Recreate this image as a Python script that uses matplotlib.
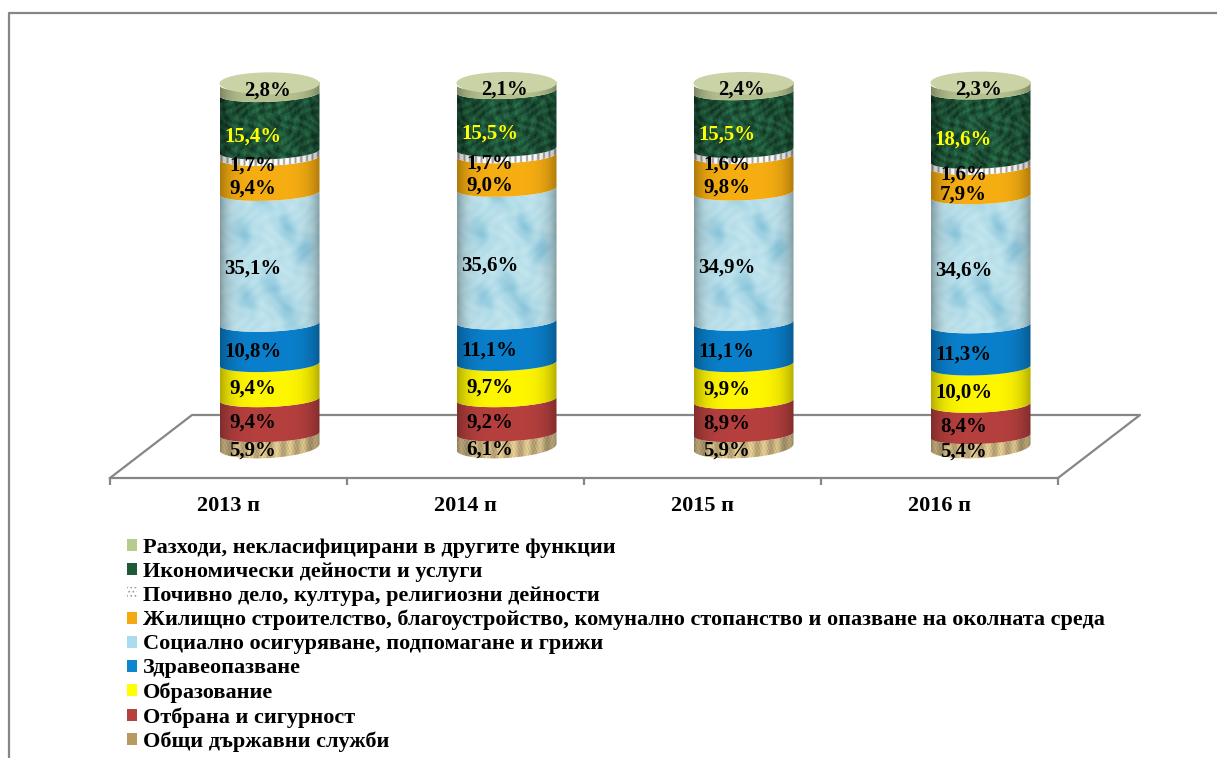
import numpy as np
import matplotlib
matplotlib.use("Agg")
import matplotlib.pyplot as plt
from matplotlib.colors import to_rgb
from matplotlib.patches import Ellipse, PathPatch, Patch
from matplotlib.path import Path

plt.rcParams['font.family'] = ['Liberation Serif', 'DejaVu Serif']
plt.rcParams['hatch.linewidth'] = 0.7

years = ["2013 п", "2014 п", "2015 п", "2016 п"]
names = ["Общи държавни служби", "Отбрана и сигурност", "Образование", "Здравеопазване",
         "Социално осигуряване, подпомагане и грижи",
         "Жилищно строителство, благоустройство, комунално стопанство и опазване на околната среда",
         "Почивно дело, култура, религиозни дейности", "Икономически дейности и услуги",
         "Разходи, некласифицирани в другите функции"]
general = [5.9, 6.1, 5.9, 5.4]
defence = [9.4, 9.2, 8.9, 8.4]
education = [9.4, 9.7, 9.9, 10.0]
health = [10.8, 11.1, 11.1, 11.3]
social = [35.1, 35.6, 34.9, 34.6]
housing = [9.4, 9.0, 9.8, 7.9]
leisure = [1.7, 1.7, 1.6, 1.6]
economy = [15.4, 15.5, 15.5, 18.6]
other = [2.8, 2.1, 2.4, 2.3]
series = [general, defence, education, health, social, housing, leisure, economy, other]
colors = ["#D0B985", "#B5403E", "#FFF600", "#0A80CC", "#C4E6EE", "#F7AE12", "#FFFFFF", "#1E5438", "#B4C18E"]
legend_colors = ["#B89A60", "#B5403E", "#FFFF00", "#0C86CE", "#A8DCEE", "#F5A80F", "#FFFFFF", "#1E5A38", "#B5CC8E"]
textures = ["weave", "plain", "plain", "plain", "water", "plain", "ticks", "marble", "plain"]

W, H = 1217, 758
LINE = "#868686"
PX_PER_PCT = 3.73  # vertical scale of the columns
DEPTH = 41 / 237   # columns stand back on the floor, shifted right
HALF_W = 50 / 237
ARC_B = 8 / PX_PER_PCT     # sag of the boundaries between segments
TILT = 2 / PX_PER_PCT      # boundaries rise a little to the right
CAP_B = 11 / PX_PER_PCT    # top ellipse
BASE_CUT = 9 / PX_PER_PCT  # the floor cuts the foot of the column
BASE_B = 11 / PX_PER_PCT
BASE_TILT = 3 / PX_PER_PCT
LABEL_SHIFT = 17           # value labels sit left of the column centre, px

# soft drops in the water picture: x, height above the foot (px), tilt sign
drops = [(23, 223, 1), (67, 229, 1), (85, 206, -1), (27, 159, 1), (52, 169, 1), (68, 146, 1), (40, 262, 1), (78, 118, 1)]


def texture(kind, xx, yy):
    if kind == "marble":
        t = np.sin(xx * .37 + 2.3 * np.sin(yy * .19)) * np.sin(yy * .41 + 1.9 * np.sin(xx * .13))
        t += .6 * np.sin(xx * 1.13 + 3 * np.sin(yy * .53)) * np.sin(yy * 1.37 + 2 * np.sin(xx * .29))
        return 1 + .32 * t
    if kind == "weave":
        return .98 + .13 * np.sin(xx * 1.9 + np.sin(yy * .4)) * np.sin(yy * 1.1) + .12 * np.sin(xx * .47)
    if kind == "ticks":
        return 1 - .35 * (np.sin(xx * 1.1) > .4)
    return np.ones_like(xx)


def water(xx, yy):
    m = .12 * (1 + np.sin(xx * .31 + 2 * np.sin(yy * .17)) * np.sin(yy * .29 + 2 * np.sin(xx * .11)))
    for dx, dy, tilt in drops:
        a = (xx - dx) + tilt * .4 * (yy - dy)
        b = (yy - dy) - tilt * .4 * (xx - dx)
        m = m + .75 * np.exp(-(a / 9) ** 2 - (b / 15) ** 2)
    return np.clip(m, 0, 1)


def segment(ax, xc, y0, y1, color, kind, foot=False):
    th = np.linspace(np.pi, 2 * np.pi, 60)
    xs = HALF_W * np.cos(th)
    ys = ARC_B * np.sin(th) + TILT * np.cos(th)
    if foot:
        low = np.c_[xc + xs, y0 + BASE_CUT + BASE_B * np.sin(th) + BASE_TILT * np.cos(th)]
    else:
        low = np.c_[xc + xs, y0 + ys]
    pts = np.vstack([low, np.c_[xc + xs[::-1], y1 + ys[::-1]]])
    patch = PathPatch(Path(np.vstack([pts, pts[:1]])), fc="none", ec="none", transform=ax.transData)
    ax.add_patch(patch)
    lo, hi = y0 - ARC_B - TILT, y1 + TILT
    h = max(int((hi - lo) * PX_PER_PCT) * 2, 4)
    xx, yy = np.meshgrid(np.linspace(0, 100, 200), np.linspace(lo * PX_PER_PCT, hi * PX_PER_PCT, h))
    u = xx / 50 - 1
    rgb = np.array(to_rgb(color))
    if kind == "water":
        m = water(xx, yy)[..., None]
        img = rgb[None, None, :] * (1 - m) + np.array(to_rgb("#86C3DA"))[None, None, :] * m
        img = img * (1 - .32 * u[..., None] ** 6)
    else:
        shade = (1 - .3 * u ** 4) * texture(kind, xx, yy)
        img = rgb[None, None, :] * shade[..., None]
    im = ax.imshow(np.clip(img, 0, 1), extent=(xc - HALF_W, xc + HALF_W, lo, hi), origin="lower",
                   aspect="auto", zorder=3, interpolation="bilinear")
    im.set_clip_path(patch)


fig = plt.figure(figsize=(W / 100, H / 100), dpi=100)

# frame of the chart area, only top and left show
bg = fig.add_axes([0, 0, 1, 1])
bg.set_xlim(0, W)
bg.set_ylim(H, 0)
bg.axis("off")
bg.plot([9, 9, W], [H, 13, 13], color=LINE, lw=1.6)

ax = fig.add_axes([110 / W, 280 / H, 948 / W, 418 / H])
ax.patch.set_alpha(0)
for s in ["top", "left", "right"]:
    ax.spines[s].set_visible(False)
ax.spines["bottom"].set_color(LINE)
ax.spines["bottom"].set_linewidth(1.6)

x = np.arange(len(years))
ylim = (-22 / PX_PER_PCT, 396 / PX_PER_PCT)

# floor
floor_d = 82 / 237
floor_y = 41 / PX_PER_PCT
ax.plot([-.5, -.5 + floor_d, 3.5 + floor_d, 3.5], [ylim[0], floor_y, floor_y, ylim[0]],
        color=LINE, lw=1.6, clip_on=False, zorder=1)

bottom = np.zeros(4)
for vals, color, kind, name in zip(series, colors, textures, names):
    vals = np.array(vals)
    for i in x:
        segment(ax, i + DEPTH, bottom[i], bottom[i] + vals[i], color, kind, foot=name == names[0])
        txt_color = "#FFFF00" if name == names[7] else "black"
        if name == names[8]:
            ypos, dx, dy = bottom[i] + vals[i], -2, -7
        else:
            ypos = bottom[i] + vals[i] / 2
            dx, dy = -LABEL_SHIFT, -(5 + .1 * ypos)
            if name == names[6]:
                dy += 1.5
            elif name == names[5]:
                dy -= 1
        ax.annotate(f"{vals[i]:.1f}%".replace(".", ","), (i + DEPTH, ypos), xytext=(dx * .72, dy * .72),
                    textcoords="offset points", ha="center", va="center", fontsize=15,
                    fontweight="bold", color=txt_color, zorder=6)
    bottom += vals

for i in x:
    ax.add_patch(Ellipse((i + DEPTH, bottom[i]), 2 * HALF_W, 2 * CAP_B, fc="#C9D3A6", ec="none", zorder=4))

ax.set_xlim(-.5, 3.5)
ax.set_ylim(*ylim)
ax.set_yticks([])
ax.set_xticks(x)
ax.set_xticklabels(years, fontsize=16, fontweight="bold")
ax.set_xticks(np.arange(5) - .5, minor=True)
ax.tick_params(axis="x", which="major", length=0, pad=13)
ax.tick_params(axis="x", which="minor", length=5, width=1.6, color=LINE)

handles = [Patch(fc=c, ec="none") for c in legend_colors]
handles[6] = Patch(fc="white", ec="#999999", hatch="....", lw=0)
handles = handles[::-1]
fig.legend(handles, names[::-1], loc="upper left", bbox_to_anchor=(127 / W, 1 - 538 / H),
           frameon=False, prop={"weight": "bold", "size": 16}, handlelength=.45, handleheight=.45,
           handletextpad=.25, labelspacing=.18, borderpad=0, borderaxespad=0)

fig.savefig("out.png", dpi=100)
